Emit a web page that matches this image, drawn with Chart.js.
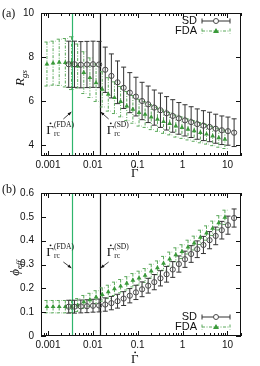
<!DOCTYPE html>
<html>
<head>
<meta charset="utf-8">
<script src="https://cdn.jsdelivr.net/npm/chart.js@4.4.0/dist/chart.umd.min.js"></script>
<style>
  html, body { margin: 0; padding: 0; background: #fff; }
  #wrap { position: relative; width: 260px; height: 366px; }
  canvas { position: absolute; left: 0; }
</style>
</head>
<body>
<div id="wrap">
  <canvas id="ca" width="260" height="180" style="top:0"></canvas>
  <canvas id="cb" width="260" height="186" style="top:180px"></canvas>
</div>
<script>
// shear rates (x) for both methods
const sdX = [0.0029, 0.0039, 0.0054, 0.0074, 0.0101, 0.0138, 0.0189, 0.0259, 0.0355, 0.0486,
  0.0666, 0.0912, 0.125, 0.171, 0.234, 0.321, 0.44, 0.603, 0.826, 1.13,
  1.55, 2.12, 2.91, 3.99, 5.46, 7.48, 10.25, 14.04];
const fdaX = [0.00095, 0.0013, 0.00178, 0.00244, 0.00335, 0.00459, 0.00628, 0.0086, 0.0118, 0.0162,
  0.0221, 0.0303, 0.0416, 0.057, 0.078, 0.107, 0.146, 0.2, 0.275, 0.376,
  0.515, 0.706, 0.967, 1.32, 1.81, 2.49, 3.41, 4.67, 6.39, 8.76];

// panel (a): R_gs
const sdRgs = [7.67, 7.67, 7.65, 7.66, 7.67, 7.66, 7.42, 7.14, 6.85, 6.6,
  6.38, 6.2, 6.0, 5.85, 5.7, 5.58, 5.44, 5.32, 5.21, 5.12,
  5.04, 4.95, 4.88, 4.82, 4.74, 4.67, 4.63, 4.56];
const sdRgsErr = [1.05, 1.05, 1.05, 1.05, 1.05, 1.05, 1.03, 1.0, 0.97, 0.94,
  0.91, 0.88, 0.85, 0.83, 0.8, 0.78, 0.76, 0.74, 0.72, 0.71,
  0.7, 0.69, 0.68, 0.67, 0.66, 0.65, 0.64, 0.63];
const fdaRgs = [7.68, 7.72, 7.76, 7.74, 7.72, 7.59, 7.29, 7.06, 6.83, 6.53,
  6.3, 6.15, 5.97, 5.77, 5.62, 5.47, 5.39, 5.27, 5.17, 5.06,
  4.97, 4.86, 4.79, 4.71, 4.64, 4.56, 4.49, 4.41, 4.33, 4.26];
const fdaRgsErr = [1.0, 1.0, 1.05, 1.1, 1.2, 1.0, 0.95, 0.9, 0.85, 0.8,
  0.76, 0.72, 0.69, 0.66, 0.63, 0.61, 0.59, 0.57, 0.55, 0.53,
  0.51, 0.5, 0.49, 0.48, 0.47, 0.46, 0.45, 0.44, 0.43, 0.42];

// panel (b): phi_eff
const sdPhi = [0.123, 0.123, 0.124, 0.125, 0.127, 0.128, 0.132, 0.138, 0.146, 0.157,
  0.169, 0.183, 0.196, 0.211, 0.226, 0.242, 0.259, 0.279, 0.302, 0.322,
  0.344, 0.364, 0.382, 0.402, 0.42, 0.444, 0.465, 0.495];
const sdPhiErr = [0.027, 0.027, 0.027, 0.027, 0.027, 0.027, 0.028, 0.028, 0.029, 0.029,
  0.03, 0.03, 0.031, 0.031, 0.032, 0.032, 0.033, 0.033, 0.034, 0.034,
  0.035, 0.035, 0.036, 0.036, 0.037, 0.037, 0.038, 0.038];
const fdaPhi = [0.123, 0.123, 0.123, 0.123, 0.124, 0.13, 0.143, 0.152, 0.163, 0.174,
  0.185, 0.198, 0.209, 0.221, 0.234, 0.243, 0.254, 0.272, 0.286, 0.305,
  0.323, 0.341, 0.354, 0.373, 0.39, 0.414, 0.432, 0.452, 0.475, 0.498];
const fdaPhiErr = [0.026, 0.026, 0.026, 0.026, 0.026, 0.027, 0.027, 0.027, 0.027, 0.028,
  0.028, 0.028, 0.028, 0.028, 0.028, 0.029, 0.029, 0.029, 0.029, 0.029,
  0.029, 0.029, 0.029, 0.029, 0.029, 0.03, 0.03, 0.03, 0.03, 0.03];

// critical shear rates (vertical lines)
const rcFDA = 0.0035;
const rcSD = 0.0142;

// ticks
const xTickVals = [0.001, 0.01, 0.1, 1, 10];
const xTickLabels = ['0.001', '0.01', '0.1', '1', '10'];
const yTicksA = [4, 6, 8, 10];
const yTicksB = [0, 0.1, 0.2, 0.3, 0.4, 0.5, 0.6];
const yLabelsB = ['0', '0.1', '0.2', '0.3', '0.4', '0.5', '0.6'];

const SANS = '"Liberation Sans", Arial, sans-serif';
const SERIF = '"Liberation Serif", "DejaVu Serif", serif';
const GREEN = '#3a9a3a';
const GREEN_BAR = '#5aa85a';
const LINE_GREEN = '#2fb56c';
const GREY = '#4a4a4a';

// Gamma with an over-dot (the combining dot does not render in canvas)
function gammaDot(ctx, x, y, size) {
  ctx.font = size + 'px ' + SERIF;
  ctx.textAlign = 'left';
  ctx.textBaseline = 'alphabetic';
  ctx.fillText('\u0393', x, y);
  const w = ctx.measureText('\u0393').width;
  ctx.beginPath();
  ctx.arc(x + w * 0.55, y - size * 0.82, size * 0.07, 0, Math.PI * 2);
  ctx.fill();
  return w;
}

function gammaLabel(ctx, x, y, sup) {
  ctx.fillStyle = '#111';
  const w = gammaDot(ctx, x, y, 13);
  ctx.font = '7.5px ' + SERIF;
  ctx.fillText('rc', x + w, y + 2);
  ctx.fillText('(' + sup + ')', x + w, y - 7);
}

function arrow(ctx, x1, y1, x2, y2) {
  ctx.strokeStyle = '#111';
  ctx.fillStyle = '#111';
  ctx.lineWidth = 0.8;
  ctx.setLineDash([]);
  ctx.beginPath();
  ctx.moveTo(x1, y1);
  ctx.lineTo(x2, y2);
  ctx.stroke();
  const a = Math.atan2(y2 - y1, x2 - x1);
  ctx.beginPath();
  ctx.moveTo(x2, y2);
  ctx.lineTo(x2 - 4 * Math.cos(a - 0.4), y2 - 4 * Math.sin(a - 0.4));
  ctx.lineTo(x2 - 4 * Math.cos(a + 0.4), y2 - 4 * Math.sin(a + 0.4));
  ctx.closePath();
  ctx.fill();
}

function errorBars(ctx, chart, idx, errs, color, dash) {
  const meta = chart.getDatasetMeta(idx);
  const ys = chart.scales.y;
  const ds = chart.data.datasets[idx].data;
  ctx.save();
  ctx.strokeStyle = color;
  ctx.lineWidth = 1;
  ctx.setLineDash(dash);
  meta.data.forEach((pt, i) => {
    const top = ys.getPixelForValue(ds[i].y + errs[i]);
    const bot = ys.getPixelForValue(ds[i].y - errs[i]);
    ctx.beginPath();
    ctx.moveTo(pt.x, top); ctx.lineTo(pt.x, bot);
    ctx.moveTo(pt.x - 2.5, top); ctx.lineTo(pt.x + 2.5, top);
    ctx.moveTo(pt.x - 2.5, bot); ctx.lineTo(pt.x + 2.5, bot);
    ctx.stroke();
  });
  ctx.restore();
}

function legendRow(ctx, textRight, y, label, color, dash, marker) {
  ctx.font = '11px ' + SANS;
  ctx.fillStyle = '#111';
  ctx.textAlign = 'right';
  ctx.textBaseline = 'middle';
  ctx.fillText(label, textRight, y);
  const x1 = textRight + 5, x2 = textRight + 33;
  ctx.strokeStyle = color;
  ctx.lineWidth = 1;
  ctx.setLineDash(dash);
  ctx.beginPath();
  ctx.moveTo(x1, y); ctx.lineTo(x2, y);
  ctx.moveTo(x1, y - 2.5); ctx.lineTo(x1, y + 2.5);
  ctx.moveTo(x2, y - 2.5); ctx.lineTo(x2, y + 2.5);
  ctx.stroke();
  ctx.setLineDash([]);
  const mx = (x1 + x2) / 2;
  if (marker === 'circle') {
    ctx.strokeStyle = GREY;
    ctx.fillStyle = '#fff';
    ctx.beginPath(); ctx.arc(mx, y, 2.5, 0, Math.PI * 2); ctx.fill(); ctx.stroke();
  } else {
    ctx.fillStyle = GREEN;
    ctx.beginPath();
    ctx.moveTo(mx, y - 3); ctx.lineTo(mx + 3, y + 2); ctx.lineTo(mx - 3, y + 2);
    ctx.closePath(); ctx.fill();
  }
}

function makePanel(id, cfg) {
  const panelPlugin = {
    id: 'panel' + id,
    beforeDatasetsDraw(chart) {
      const ctx = chart.ctx;
      const { top, bottom } = chart.chartArea;
      const xs = chart.scales.x;
      ctx.save();
      ctx.lineWidth = 1.2;
      ctx.strokeStyle = LINE_GREEN;
      let px = Math.round(xs.getPixelForValue(rcFDA)) + 0.5;
      ctx.beginPath(); ctx.moveTo(px, top); ctx.lineTo(px, bottom); ctx.stroke();
      ctx.strokeStyle = '#111';
      px = Math.round(xs.getPixelForValue(rcSD)) + 0.5;
      ctx.beginPath(); ctx.moveTo(px, top); ctx.lineTo(px, bottom); ctx.stroke();
      ctx.restore();
      errorBars(ctx, chart, 1, cfg.fdaErr, GREEN_BAR, [3, 1.5, 1, 1.5]);
      errorBars(ctx, chart, 0, cfg.sdErr, '#333', []);
    },
    afterDraw(chart) {
      const ctx = chart.ctx;
      const { left, right, top, bottom } = chart.chartArea;
      const xs = chart.scales.x, ys = chart.scales.y;
      ctx.save();
      ctx.strokeStyle = '#111';
      ctx.lineWidth = 1;
      ctx.setLineDash([]);
      ctx.strokeRect(left + 0.5, top + 0.5, right - left - 1, bottom - top - 1);
      // x ticks, mirrored on top
      ctx.beginPath();
      for (let e = -4; e <= 1; e++) {
        for (let k = 1; k <= 9; k++) {
          const v = k * Math.pow(10, e);
          if (v < xs.min || v > xs.max) continue;
          const p = Math.round(xs.getPixelForValue(v)) + 0.5;
          const len = k === 1 ? 5 : 3;
          ctx.moveTo(p, bottom); ctx.lineTo(p, bottom - len);
          ctx.moveTo(p, top); ctx.lineTo(p, top + len);
        }
      }
      // y ticks, mirrored on right
      cfg.yTicks.forEach(v => {
        const p = Math.round(ys.getPixelForValue(v)) + 0.5;
        ctx.moveTo(left, p); ctx.lineTo(left + 5, p);
        ctx.moveTo(right, p); ctx.lineTo(right - 5, p);
      });
      ctx.stroke();

      // annotations near the critical lines
      const gx = xs.getPixelForValue(rcFDA);
      const bx = xs.getPixelForValue(rcSD);
      const ay = cfg.annotY;
      gammaLabel(ctx, gx - 26, ay, 'FDA');
      gammaLabel(ctx, bx + 7, ay, 'SD');
      arrow(ctx, gx - 9, ay + cfg.arrowDy[0], gx - 1, ay + cfg.arrowDy[1]);
      arrow(ctx, bx + 9, ay + cfg.arrowDy[0], bx + 1, ay + cfg.arrowDy[1]);

      // legend
      legendRow(ctx, 197, cfg.legY, 'SD', '#333', [], 'circle');
      legendRow(ctx, 197, cfg.legY + 10, 'FDA', GREEN_BAR, [3, 1.5, 1, 1.5], 'triangle');

      // panel tag
      ctx.font = '12px ' + SERIF;
      ctx.fillStyle = '#111';
      ctx.textAlign = 'left';
      ctx.textBaseline = 'alphabetic';
      ctx.fillText(cfg.tag, 2, cfg.tagY);

      // x title
      gammaDot(ctx, 131, cfg.xTitleY, 13);

      // y title (rotated, with subscript)
      ctx.translate(cfg.yTitle.x, cfg.yTitle.y);
      ctx.rotate(-Math.PI / 2);
      ctx.textAlign = 'left';
      ctx.font = 'italic 13px ' + SERIF;
      const w = ctx.measureText(cfg.yTitle.main).width;
      ctx.font = 'italic 9px ' + SERIF;
      const ws = ctx.measureText(cfg.yTitle.sub).width;
      const x0 = -(w + ws) / 2;
      ctx.font = 'italic 13px ' + SERIF;
      ctx.fillText(cfg.yTitle.main, x0, 0);
      ctx.font = 'italic 9px ' + SERIF;
      ctx.fillText(cfg.yTitle.sub, x0 + w, 3);
      ctx.restore();
    }
  };

  return new Chart(document.getElementById(id), {
    type: 'scatter',
    data: {
      datasets: [
        {
          label: 'SD',
          data: sdX.map((x, i) => ({ x: x, y: cfg.sd[i] })),
          pointStyle: 'circle',
          radius: 2.6,
          borderWidth: 1,
          borderColor: GREY,
          backgroundColor: 'rgba(255,255,255,0)'
        },
        {
          label: 'FDA',
          data: fdaX.map((x, i) => ({ x: x, y: cfg.fda[i] })),
          pointStyle: 'triangle',
          radius: 2.8,
          borderWidth: 0,
          borderColor: GREEN,
          backgroundColor: GREEN
        }
      ]
    },
    options: {
      responsive: false,
      animation: false,
      layout: { padding: { top: cfg.padTop, right: 19, left: 0, bottom: 0 } },
      plugins: { legend: { display: false }, tooltip: { enabled: false } },
      scales: {
        x: {
          type: 'logarithmic',
          min: 0.0007,
          max: 20,
          afterBuildTicks: ax => { ax.ticks = xTickVals.map(v => ({ value: v })); },
          afterFit: ax => { ax.height = cfg.xAxisH; },
          grid: { display: false, drawTicks: false },
          border: { display: false },
          ticks: {
            autoSkip: false, maxRotation: 0, padding: 3,
            color: '#111', font: { family: SANS, size: 10 },
            callback: (v, i) => xTickLabels[i]
          }
        },
        y: {
          min: cfg.yMin,
          max: cfg.yMax,
          afterBuildTicks: ax => { ax.ticks = cfg.yTicks.map(v => ({ value: v })); },
          afterFit: ax => { ax.width = 41; },
          grid: { display: false, drawTicks: false },
          border: { display: false },
          ticks: {
            autoSkip: false, padding: 7,
            color: '#111', font: { family: SANS, size: 10 },
            callback: (v, i) => cfg.yLabels[i]
          }
        }
      }
    },
    plugins: [panelPlugin]
  });
}

makePanel('ca', {
  sd: sdRgs, sdErr: sdRgsErr, fda: fdaRgs, fdaErr: fdaRgsErr,
  yMin: 3.5, yMax: 10, yTicks: yTicksA, yLabels: yTicksA.map(String),
  padTop: 12, xAxisH: 24,
  annotY: 134, arrowDy: [-15, -22],
  legY: 21, tag: '(a)', tagY: 17, xTitleY: 177,
  yTitle: { x: 24, y: 78, main: 'R', sub: 'gs' }
});

makePanel('cb', {
  sd: sdPhi, sdErr: sdPhiErr, fda: fdaPhi, fdaErr: fdaPhiErr,
  yMin: 0, yMax: 0.6, yTicks: yTicksB, yLabels: yLabelsB,
  padTop: 9, xAxisH: 30,
  annotY: 76, arrowDy: [6, 12],
  legY: 137, tag: '(b)', tagY: 13, xTitleY: 183,
  yTitle: { x: 19, y: 88, main: '\u03d5', sub: 'eff' }
});
</script>
</body>
</html>
